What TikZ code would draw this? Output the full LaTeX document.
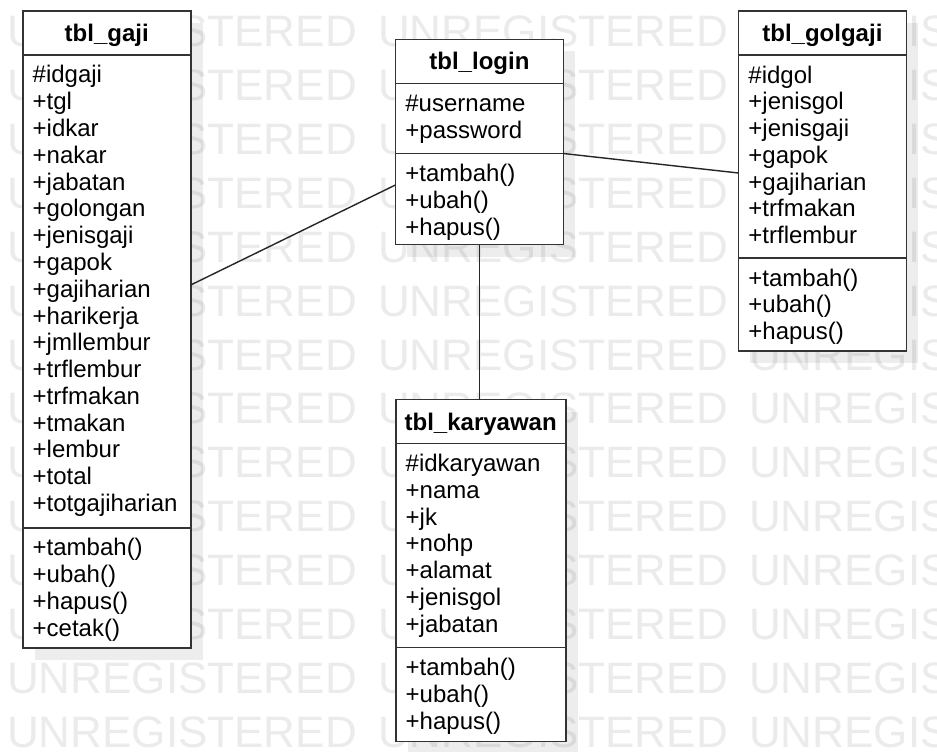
\documentclass[tikz,border=0pt]{standalone}
\usepackage{fontspec}
\setmainfont{Liberation Sans}
\usetikzlibrary{positioning}
\usetikzlibrary{shadows}

\begin{document}
\begin{tikzpicture}[x=1pt,y=-1pt]

	\tikzstyle{wmark} = [text=black!8,font=\fontsize{44}{44}\selectfont,anchor=base west,inner sep=0pt]
	\tikzstyle{cbox} = [draw=black!80,line width=1.8pt,fill=white,outer sep=0pt,drop shadow={shadow xshift=12pt,shadow yshift=-12pt,fill=black,opacity=0.07}]
	\tikzstyle{ctitle} = [cbox,minimum width=168pt,minimum height=44pt,inner sep=0pt,text height=22pt,text depth=5pt,font=\bfseries\fontsize{24}{24}\selectfont]
	\tikzstyle{cbody} = [cbox,text width=148pt,inner xsep=10pt,inner ysep=0pt,align=left,text height=28pt,font=\fontsize{24}{26.8}\selectfont]
	\tikzstyle{cline} = [draw=black!85,line width=1.4pt]

	\useasboundingbox[fill=white] (0,0) rectangle (937,752);

	% watermark
	\foreach \r in {0,...,13}
		\foreach \c in {7,378,749}
			\node[wmark] (wm-\r-\c) at (\c,{47+53.85*\r}) {UNREGISTERED};

	\node[ctitle] (gaji-title) at (106.7,32.8) {tbl\_gaji};
	\node[cbody,text depth=445pt,below=0pt of gaji-title] (gaji-attr) {\#idgaji\\+tgl\\+idkar\\+nakar\\+jabatan\\+golongan\\+jenisgaji\\+gapok\\+gajiharian\\+harikerja\\+jmllembur\\+trflembur\\+trfmakan\\+tmakan\\+lembur\\+total\\+totgajiharian};
	\node[cbody,text depth=92pt,below=0pt of gaji-attr] (gaji-ops) {+tambah()\\+ubah()\\+hapus()\\+cetak()};

	\node[ctitle] (login-title) at (479.4,61.5) {tbl\_login};
	\node[cbody,text depth=42pt,below=0pt of login-title] (login-attr) {\#username\\+password};
	\node[cbody,text depth=63pt,below=0pt of login-attr] (login-ops) {+tambah()\\+ubah()\\+hapus()};

	\node[ctitle] (gol-title) at (822.4,33) {tbl\_golgaji};
	\node[cbody,text depth=175pt,below=0pt of gol-title] (gol-attr) {\#idgol\\+jenisgol\\+jenisgaji\\+gapok\\+gajiharian\\+trfmakan\\+trflembur};
	\node[cbody,text depth=65pt,below=0pt of gol-attr] (gol-ops) {+tambah()\\+ubah()\\+hapus()};

	\node[ctitle,minimum width=170pt] (kary-title) at (480.7,421.5) {tbl\_karyawan};
	\node[cbody,text width=150pt,text depth=176pt,below=0pt of kary-title] (kary-attr) {\#idkaryawan\\+nama\\+jk\\+nohp\\+alamat\\+jenisgol\\+jabatan};
	\node[cbody,text width=150pt,text depth=66pt,below=0pt of kary-attr] (kary-ops) {+tambah()\\+ubah()\\+hapus()};

	\draw[cline] ([yshift=6.3pt]gaji-attr.east) -- ([yshift=14pt]login-ops.west);
	\draw[cline] (login-ops.north east) -- ([yshift=-16.5pt]gol-attr.west);
	\draw[cline] (login-ops.south) -- (login-ops.south |- kary-title.north);

\end{tikzpicture}
\end{document}
